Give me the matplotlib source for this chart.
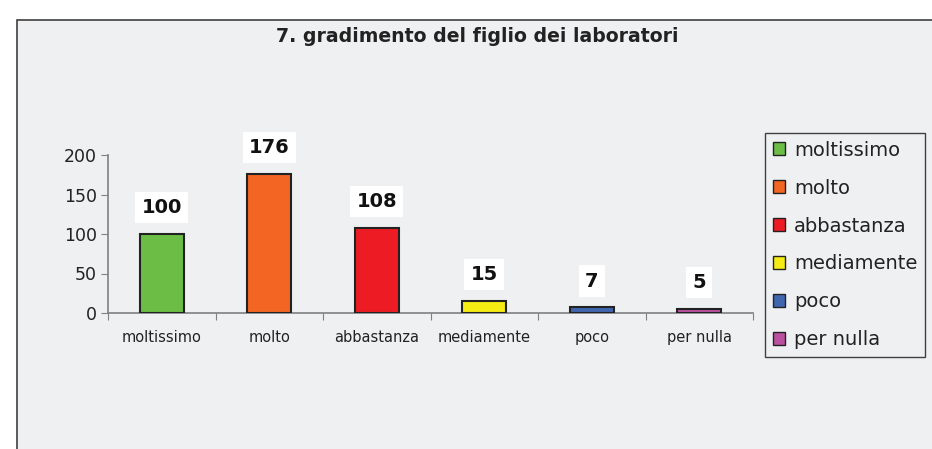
import numpy as np
import matplotlib.pyplot as plt
from matplotlib.patches import Rectangle, Patch

# dati del grafico
categorie = ['moltissimo', 'molto', 'abbastanza', 'mediamente', 'poco', 'per nulla']
valori = [100, 176, 108, 15, 7, 5]
colori = ['#6BBD45', '#F26522', '#ED1C24', '#F5EC13', '#4066B0', '#BB4FA0']
titolo = '7. gradimento del figlio dei laboratori'

sfondo = '#EFF0F2'

fig = plt.figure(figsize=(9.32, 4.49), dpi=100)
fig.patch.set_facecolor('white')

# riquadro grigio dell'area del grafico
W, H = 932, 449
fig.add_artist(Rectangle((17 / W, -0.05), 1.0, 1 - 20 / H + 0.05,
                         transform=fig.transFigure, facecolor=sfondo,
                         edgecolor='#404040', linewidth=1.2, zorder=0))

ax = fig.add_axes([108 / W, 136 / H, 645 / W, 158 / H])
ax.set_facecolor('none')

x = np.arange(len(categorie))
ax.bar(x, valori, width=0.41, color=colori, edgecolor='#222222', linewidth=1.5, zorder=3)

# etichette dei valori
for xi, v in zip(x, valori):
    ax.annotate(str(v), (xi, v), xytext=(0, 19), textcoords='offset points',
                ha='center', va='center', fontsize=14, fontweight='bold', color='#111111',
                bbox=dict(facecolor='white', edgecolor='none', pad=4.5))

ax.set_xlim(-0.5, len(categorie) - 0.5)
ax.set_ylim(0, 200)
ax.set_yticks([0, 50, 100, 150, 200])
ax.tick_params(axis='y', labelsize=12.5, length=5, color='#808080', labelcolor='#222222', pad=3)

ax.set_xticks(np.arange(-0.5, len(categorie)), labels=[])
ax.set_xticks(x, labels=categorie, minor=True)
ax.tick_params(axis='x', which='major', length=5, color='#808080')
ax.tick_params(axis='x', which='minor', length=0, labelsize=10.5, pad=12, labelcolor='#222222')

for s in ['top', 'right']:
    ax.spines[s].set_visible(False)
for s in ['left', 'bottom']:
    ax.spines[s].set_color('#808080')
    ax.spines[s].set_linewidth(1.2)

fig.text(477 / W, 1 - 37 / H, titolo, ha='center', va='center',
         fontsize=13.6, fontweight='bold', color='#222222')

maniglie = [Patch(facecolor=c, edgecolor='#222222', linewidth=1) for c in colori]
leg = fig.legend(maniglie, categorie, loc='upper left',
                 bbox_to_anchor=(765 / W, 1 - 133 / H), fontsize=14,
                 handlelength=0.65, handleheight=0.65, handletextpad=0.45,
                 labelspacing=0.97, borderpad=0.4, borderaxespad=0,
                 fancybox=False, framealpha=1, facecolor=sfondo, edgecolor='#404040')
leg.get_frame().set_linewidth(1)
for t in leg.get_texts():
    t.set_color('#222222')

plt.savefig('out.png', dpi=100)
